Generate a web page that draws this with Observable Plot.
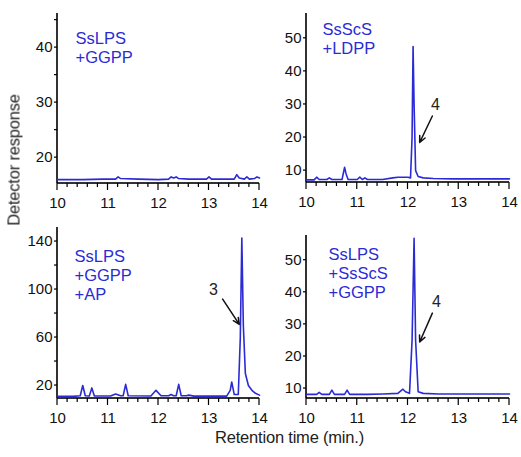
<!DOCTYPE html>
<html><head><meta charset="utf-8">
<script src="https://cdn.jsdelivr.net/npm/d3@7"></script>
<script src="https://cdn.jsdelivr.net/npm/@observablehq/plot@0.6"></script>
<style>
html,body{margin:0;padding:0;background:#fff;}
#wrap{width:521px;height:457px;display:flex;flex-wrap:wrap;align-content:flex-start;font-family:"Liberation Sans",Arial,sans-serif;}
#wrap svg{flex:none;overflow:visible;}
#xt{width:521px;text-align:center;padding-left:58px;box-sizing:border-box;color:#222;font-size:16.5px;letter-spacing:-0.2px;white-space:nowrap;margin-top:-2px;font-family:"Liberation Sans",Arial,sans-serif;}
#yt{position:fixed;left:14px;top:160px;transform:translate(-50%,-50%) rotate(-90deg);color:#222;font-size:16.5px;letter-spacing:-0.2px;white-space:nowrap;font-family:"Liberation Sans",Arial,sans-serif;}
</style></head>
<body><div id="wrap"></div><div id="yt"></div>
<script>
// ---- data ----
const xTicks = [10, 11, 12, 13, 14];
const xMinor = [10.2,10.4,10.6,10.8,11.2,11.4,11.6,11.8,12.2,12.4,12.6,12.8,13.2,13.4,13.6,13.8];

// Panel A: SsLPS + GGPP
const tA = [10,10.5,10.9,11.15,11.2,11.25,11.6,12.0,12.2,12.25,12.3,12.35,12.4,12.6,12.95,13.0,13.05,13.5,13.55,13.6,13.7,13.75,13.8,13.9,13.95,14];
const yA = [16,16,16.1,16.1,16.5,16.2,16.1,16.0,16.1,16.5,16.3,16.5,16.2,16.1,16.1,16.5,16.1,16.1,16.9,16.3,16.1,16.5,16.1,16.2,16.5,16.3];
const yTicksA = [20, 30, 40];
const yMinorA = [25, 35, 45];

// Panel B: SsScS + LDPP
const tB = [10,10.15,10.2,10.25,10.4,10.45,10.5,10.7,10.73,10.75,10.78,10.82,11.0,11.05,11.1,11.15,11.2,11.5,11.7,11.8,11.9,12.0,12.05,12.08,12.1,12.12,12.15,12.2,12.3,12.5,12.9,13.5,14];
const yB = [7.2,7.2,8.0,7.3,7.3,7.8,7.3,7.3,9.5,11.0,9.0,7.3,7.3,8.0,7.3,7.8,7.3,7.3,7.8,8.0,8.0,8.0,7.8,20,47.5,30,10,8.2,7.8,7.6,7.5,7.5,7.5];
const yTicksB = [10, 20, 30, 40, 50];

// Panel C: SsLPS + GGPP + AP
const tC = [10,10.3,10.45,10.5,10.55,10.63,10.68,10.73,11.05,11.15,11.25,11.3,11.35,11.4,11.85,11.95,12.05,12.2,12.25,12.3,12.35,12.4,12.45,12.55,12.6,12.7,13.35,13.42,13.45,13.5,13.58,13.62,13.65,13.68,13.72,13.78,13.85,13.92,14];
const yC = [11,11,11.5,20,11.5,11.3,18,11.3,11.3,13,11.5,11.5,21,11.5,11.3,16,11.5,11.5,12.5,11.5,11.5,21,11.5,11.5,12,11.2,11.2,16,23,12.5,12.5,60,143,70,30,20,16,13.5,12];
const yTicksC = [20, 60, 100, 140];
const yMinorC = [40, 80, 120];

// Panel D: SsLPS + SsScS + GGPP
const tD = [10,10.2,10.25,10.3,10.45,10.5,10.55,10.75,10.8,10.85,11.2,11.5,11.8,11.9,11.95,12.03,12.08,12.12,12.15,12.2,12.3,12.6,13.0,14];
const yD = [8.2,8.2,8.8,8.2,8.2,9.5,8.2,8.2,9.5,8.2,8.2,8.3,8.5,9.8,9.0,8.5,25,56.8,25,9,8.5,8.3,8.3,8.3];
const yTicksD = [10, 20, 30, 40, 50];

// labels and annotations
const labelA = "SsLPS\n+GGPP";
const labelB = "SsScS\n+LDPP";
const labelC = "SsLPS\n+GGPP\n+AP";
const labelD = "SsLPS\n+SsScS\n+GGPP";
const annB = {text: "4", x: 12.54, y: 30, x1: 12.48, y1: 26.5, x2: 12.23, y2: 18.5};
const annC = {text: "3", x: 13.09, y: 100, x1: 13.27, y1: 92, x2: 13.60, y2: 71};
const annD = {text: "4", x: 12.56, y: 37, x1: 12.48, y1: 33.5, x2: 12.23, y2: 24.5};

const xTitle = "Retention time (min.)";
const yTitle = "Detector response";

// ---- drawing ----
const BLUE = "#2b2bd6";
const FONT = "Liberation Sans, Arial, sans-serif";
const wrap = document.getElementById("wrap");

function panel(cfg) {
  const data = cfg.t.map((t, i) => ({t, v: cfg.y[i]}));
  const y0 = cfg.dom[0], y1 = cfg.dom[1];
  const yAll = cfg.yTicks.concat(cfg.yMinor || []);
  const marks = [
    // axis lines as thin filled rects
    Plot.rect([0], {x1: () => 10, x2: () => 10, y1: () => y0, y2: () => y1, insetLeft: -0.8, insetRight: -0.8, fill: "black"}),
    Plot.rect([0], {x1: () => 10, x2: () => 14, y1: () => y0, y2: () => y0, insetTop: -0.8, insetBottom: -0.8, fill: "black"}),
    // x tick marks (hanging below the axis)
    Plot.rect(xMinor, {x1: d => d, x2: d => d, y1: () => y0, y2: () => y0, insetLeft: -0.6, insetRight: -0.6, insetTop: 0, insetBottom: -4, fill: "black"}),
    Plot.rect(xTicks, {x1: d => d, x2: d => d, y1: () => y0, y2: () => y0, insetLeft: -0.6, insetRight: -0.6, insetTop: 0, insetBottom: -7, fill: "black"}),
    // y tick marks (to the left of the axis)
    Plot.rect(yAll, {x1: () => 10, x2: () => 10, y1: d => d, y2: d => d, insetLeft: -3, insetRight: 0, insetTop: -0.6, insetBottom: -0.6, fill: "black"}),
    // tick labels
    Plot.axisX({ticks: xTicks, tickSize: 0, tickPadding: 14, tickFormat: d => String(d), fontSize: 15, label: null}),
    Plot.axisY({ticks: cfg.yTicks, tickSize: 0, tickPadding: 5, tickFormat: d => String(d), fontSize: 15, label: null}),
    Plot.line(data, {x: "t", y: "v", stroke: BLUE, strokeWidth: 1.6}),
    Plot.text([cfg.label], {frameAnchor: "top-left", dx: cfg.ldx, dy: cfg.ldy, lineAnchor: "top", lineHeight: 1.15, fontSize: 16.5, fill: BLUE, textAnchor: "start"})
  ];
  if (cfg.ann) {
    const a = cfg.ann;
    marks.push(Plot.arrow([a], {x1: "x1", y1: "y1", x2: "x2", y2: "y2", stroke: "#111", strokeWidth: 1.5, headLength: 7, headAngle: 50}));
    marks.push(Plot.text([a], {x: "x", y: "y", text: "text", fontSize: 16, fill: "#222"}));
  }
  const svg = Plot.plot({
    width: cfg.w, height: cfg.h,
    marginLeft: cfg.ml, marginRight: cfg.mr, marginTop: cfg.mt, marginBottom: cfg.mb,
    style: {fontFamily: FONT, color: "#111", overflow: "visible"},
    x: {domain: [10, 14], label: null},
    y: {domain: cfg.dom, label: null},
    marks
  });
  wrap.appendChild(svg);
}

panel({t: tA, y: yA, yTicks: yTicksA, yMinor: yMinorA, dom: [15.3, 46.2], label: labelA, ldx: 18, ldy: 17,
  w: 260, h: 215, ml: 57, mr: 1, mt: 13, mb: 32});
panel({t: tB, y: yB, yTicks: yTicksB, dom: [6.4, 57.5], label: labelB, ldx: 16, ldy: 8, ann: annB,
  w: 261, h: 215, ml: 46, mr: 12, mt: 13, mb: 33});
panel({t: tC, y: yC, yTicks: yTicksC, yMinor: yMinorC, dom: [9.2, 151.7], label: labelC, ldx: 17, ldy: 21, ann: annC,
  w: 260, h: 215, ml: 57, mr: 1, mt: 12, mb: 32});
panel({t: tD, y: yD, yTicks: yTicksD, dom: [6.9, 57.7], label: labelD, ldx: 22, ldy: 11, ann: annD,
  w: 261, h: 215, ml: 46, mr: 12, mt: 20, mb: 32});

const xt = document.createElement("div");
xt.id = "xt"; xt.textContent = xTitle;
wrap.appendChild(xt);
document.getElementById("yt").textContent = yTitle;
</script>
</body></html>
